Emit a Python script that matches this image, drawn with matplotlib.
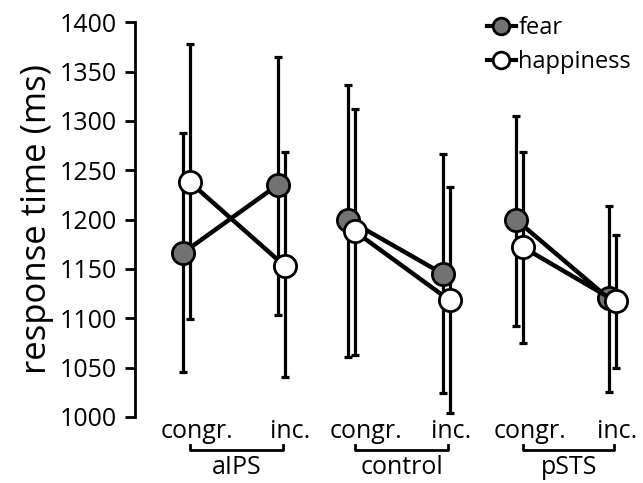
import matplotlib
matplotlib.use("Agg")
import matplotlib.pyplot as plt
from matplotlib.lines import Line2D

plt.rcParams['font.family'] = ['Open Sans', 'DejaVu Sans']

regions = ["aIPS", "control", "pSTS"]
conditions = ["congr.", "inc."]
fear = [1166, 1235, 1200, 1145, 1200, 1120]
fear_lo = [1045, 1103, 1061, 1024, 1092, 1025]
fear_hi = [1288, 1365, 1336, 1266, 1305, 1214]
happy = [1238, 1153, 1188, 1118, 1172, 1117]
happy_lo = [1099, 1040, 1063, 1004, 1075, 1049]
happy_hi = [1378, 1268, 1312, 1233, 1268, 1184]
yticks = [1000, 1050, 1100, 1150, 1200, 1250, 1300, 1350, 1400]

pos = [0, 1, 1.74, 2.74, 3.51, 4.49]
off = 0.037

fig = plt.figure(figsize=(6.43, 4.83), dpi=100)
ax = fig.add_axes([0.21, 0.137, 0.785, 0.817])

def draw(vals, lo, hi, dx, face, z):
    for g in range(3):
        xs = [pos[2*g] + dx, pos[2*g+1] + dx]
        v = vals[2*g:2*g+2]
        l = lo[2*g:2*g+2]
        h = hi[2*g:2*g+2]
        yerr = [[v[i]-l[i] for i in range(2)], [h[i]-v[i] for i in range(2)]]
        ax.errorbar(xs, v, yerr=yerr, fmt='none', ecolor='black', elinewidth=2.3,
                    capsize=3, capthick=2.3, zorder=1)
        ax.plot(xs, v, color='black', lw=3.2, zorder=z)
        ax.plot(xs, v, ls='none', marker='o', ms=16, mfc=face, mec='black', mew=2, zorder=z+0.5)

draw(fear, fear_lo, fear_hi, -off, '#727272', 2)
draw(happy, happy_lo, happy_hi, off, 'white', 3)

ax.set_ylim(1000, 1400)
ax.set_xlim(-0.54, 4.78)
ax.set_yticks(yticks)
ax.tick_params(axis='y', labelsize=18, length=7, width=2, direction='out', pad=6)
ax.set_xticks([])
for s in ['top', 'right', 'bottom']:
    ax.spines[s].set_visible(False)
ax.spines['left'].set_linewidth(2)
ax.set_ylabel("response time (ms)", fontsize=25, labelpad=4)

# x labels
lab_off = [0.11, 0.09, 0.15, 0.05, 0.11, 0.05]
for i, p in enumerate(pos):
    ax.text(p + lab_off[i], -0.036, conditions[i % 2], transform=ax.get_xaxis_transform(),
            ha='center', va='center', fontsize=18)
for g in range(3):
    x0 = pos[2*g] + 0.04
    x1 = pos[2*g+1] + 0.02
    ax.plot([x0, x0, x1, x1], [-0.072, -0.085, -0.085, -0.072], color='black', lw=2,
            transform=ax.get_xaxis_transform(), clip_on=False)
    ax.text((x0 + x1) / 2, -0.128, regions[g], transform=ax.get_xaxis_transform(),
            ha='center', va='center', fontsize=18)

handles = [Line2D([], [], color='black', lw=3, marker='o', ms=12, mfc='#727272', mec='black', mew=2),
           Line2D([], [], color='black', lw=3, marker='o', ms=12, mfc='white', mec='black', mew=2)]
ax.legend(handles, ["fear", "happiness"], loc='upper right', bbox_to_anchor=(1.025, 1.07),
          frameon=False, fontsize=17, handlelength=1.25, handletextpad=0.1, labelspacing=0.45)

fig.savefig("out.png", dpi=100)
